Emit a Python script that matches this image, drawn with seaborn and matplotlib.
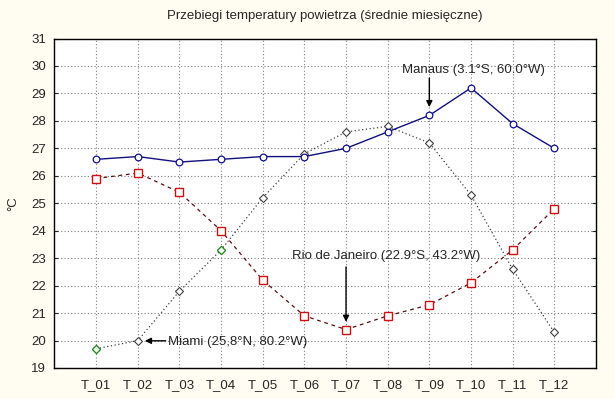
import numpy as np
import pandas as pd
import seaborn as sns
import matplotlib.pyplot as plt

months = ['T_01', 'T_02', 'T_03', 'T_04', 'T_05', 'T_06',
          'T_07', 'T_08', 'T_09', 'T_10', 'T_11', 'T_12']
manaus = [26.6, 26.7, 26.5, 26.6, 26.7, 26.7, 27.0, 27.6, 28.2, 29.2, 27.9, 27.0]
rio = [25.9, 26.1, 25.4, 24.0, 22.2, 20.9, 20.4, 20.9, 21.3, 22.1, 23.3, 24.8]
miami = [19.7, 20.0, 21.8, 23.3, 25.2, 26.8, 27.6, 27.8, 27.2, 25.3, 22.6, 20.3]
miami_green = [0, 3]  # points drawn with green edge in the original

title = 'Przebiegi temperatury powietrza (średnie miesięczne)'
lab_manaus = 'Manaus (3.1°S, 60.0°W)'
lab_rio = 'Rio de Janeiro (22.9°S, 43.2°W)'
lab_miami = 'Miami (25,8°N, 80.2°W)'

sns.set_style('white')
plt.rcParams['font.family'] = ['Liberation Sans', 'DejaVu Sans']
fs = 9.5

bg = '#FFFCF1'
fig = plt.figure(figsize=(6.15, 3.99), dpi=100, facecolor=bg)
ax = fig.add_axes([0.0886, 0.0777, 0.8804, 0.8258])
ax.set_facecolor('white')

df = pd.DataFrame({'month': months, 'manaus': manaus, 'rio': rio, 'miami': miami})

sns.lineplot(data=df, x='month', y='miami', ax=ax, color='#404040', lw=0.9,
             linestyle=(0, (1, 2)), marker='D', markersize=4.2,
             markerfacecolor='white', markeredgecolor='#404040', markeredgewidth=0.8)
sub = df.iloc[miami_green]
sns.lineplot(data=sub, x='month', y='miami', ax=ax, lw=0, marker='D', markersize=4.2,
             markerfacecolor='white', markeredgecolor='#109010', markeredgewidth=0.8)
sns.lineplot(data=df, x='month', y='rio', ax=ax, color='#5A1010', lw=0.9,
             linestyle=(0, (3, 3)), marker='s', markersize=5.2,
             markerfacecolor='white', markeredgecolor='#D01010', markeredgewidth=1.0)
sns.lineplot(data=df, x='month', y='manaus', ax=ax, color='#101080', lw=1.0,
             marker='o', markersize=4.8,
             markerfacecolor='white', markeredgecolor='#101090', markeredgewidth=0.9)

ax.set_xlim(-1, 12)
ax.set_ylim(19, 31)
ax.set_yticks(range(19, 32))
ax.grid(True, color='#808080', lw=0.8, linestyle=(0, (1, 2)))
for s in ax.spines.values():
    s.set_color('black')
    s.set_linewidth(1.0)
ax.tick_params(axis='y', direction='in', length=3, left=True, right=True, pad=6, labelsize=fs)
ax.tick_params(axis='x', length=0, pad=8, labelsize=fs)
ax.set_xlabel('')
ax.set_ylabel('°C', fontsize=fs, labelpad=9)
ax.set_title(title, fontsize=fs, pad=14)

arrow = dict(arrowstyle='-|>', color='black', lw=1.0, mutation_scale=9, shrinkA=0, shrinkB=0)
ax.text(9.05, 29.85, lab_manaus, ha='center', va='center', fontsize=fs)
ax.annotate('', xy=(8, 28.5), xytext=(8, 29.56), arrowprops=arrow)
ax.text(6.96, 23.08, lab_rio, ha='center', va='center', fontsize=fs)
ax.annotate('', xy=(6, 20.68), xytext=(6, 22.68), arrowprops=arrow)
ax.text(1.72, 19.95, lab_miami, ha='left', va='center', fontsize=fs)
ax.annotate('', xy=(1.17, 19.99), xytext=(1.67, 19.99), arrowprops=arrow)

plt.savefig('out.png', dpi=100, facecolor=bg)
